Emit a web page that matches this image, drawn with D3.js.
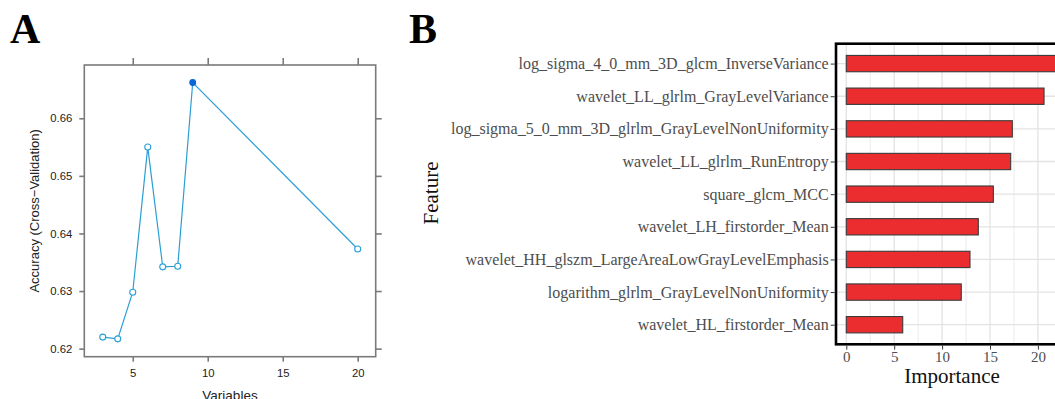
<!DOCTYPE html>
<html>
<head>
<meta charset="utf-8">
<script src="https://cdn.jsdelivr.net/npm/d3@7"></script>
<style>
  body { margin: 0; background: #fff; }
  svg { display: block; }
</style>
</head>
<body>
<svg id="chart" width="1055" height="399"></svg>
<script>
// panel A: RFE accuracy
const variables = [3, 4, 5, 6, 7, 8, 9, 20];
const accuracy = [0.6220, 0.6217, 0.6298, 0.6550, 0.6342, 0.6343, 0.6662, 0.6373];
const bestVariables = 9;
const accTicks = [0.62, 0.63, 0.64, 0.65, 0.66];
const varTicks = [5, 10, 15, 20];

// panel B: feature importance
const features = [
  "log_sigma_4_0_mm_3D_glcm_InverseVariance",
  "wavelet_LL_glrlm_GrayLevelVariance",
  "log_sigma_5_0_mm_3D_glrlm_GrayLevelNonUniformity",
  "wavelet_LL_glrlm_RunEntropy",
  "square_glcm_MCC",
  "wavelet_LH_firstorder_Mean",
  "wavelet_HH_glszm_LargeAreaLowGrayLevelEmphasis",
  "logarithm_glrlm_GrayLevelNonUniformity",
  "wavelet_HL_firstorder_Mean"
];
const importance = [22.9, 20.64, 17.33, 17.16, 15.35, 13.78, 12.91, 12.0, 5.89];
const impTicks = [0, 5, 10, 15, 20];
const impGrid = [0, 5, 10, 15, 20, 25];
const impMinor = [2.5, 7.5, 12.5, 17.5, 22.5];

const svg = d3.select("#chart");
const sans = "'Liberation Sans', Arial, sans-serif";
const serif = "'Liberation Serif', 'Times New Roman', serif";

// ---------- A ----------
svg.append("text")
  .attr("x", 10).attr("y", 43)
  .style("font-family", serif).style("font-weight", "bold").style("font-size", "42px")
  .text("A");

const xA = d3.scaleLinear().domain([1.77, 21.2]).range([84.3, 375.7]);
const yA = d3.scaleLinear().domain([0.6186, 0.66925]).range([356.7, 65]);
const boxCol = "#7a7a7a";

const gA = svg.append("g");

gA.append("rect")
  .attr("x", xA.range()[0]).attr("y", yA.range()[1])
  .attr("width", xA.range()[1] - xA.range()[0])
  .attr("height", yA.range()[0] - yA.range()[1])
  .attr("fill", "none").attr("stroke", boxCol).attr("stroke-width", 1.6);

function styleAxisA(g) {
  g.select(".domain").remove();
  g.selectAll(".tick line").attr("stroke", boxCol).attr("stroke-width", 1.6);
  g.selectAll(".tick text")
    .style("font-family", sans).style("font-size", "11.3px").attr("fill", "#222");
}

gA.append("g")
  .attr("transform", "translate(" + xA.range()[0] + ",0)")
  .call(d3.axisLeft(yA).tickValues(accTicks).tickSize(5).tickPadding(7).tickFormat(d3.format(".2f")))
  .call(styleAxisA);
gA.append("g")
  .attr("transform", "translate(" + xA.range()[1] + ",0)")
  .call(d3.axisRight(yA).tickValues(accTicks).tickSize(6).tickFormat(""))
  .call(styleAxisA);
gA.append("g")
  .attr("transform", "translate(0," + yA.range()[0] + ")")
  .call(d3.axisBottom(xA).tickValues(varTicks).tickSize(5).tickPadding(7))
  .call(styleAxisA);
gA.append("g")
  .attr("transform", "translate(0," + yA.range()[1] + ")")
  .call(d3.axisTop(xA).tickValues(varTicks).tickSize(7).tickFormat(""))
  .call(styleAxisA);

const ptsA = variables.map((v, i) => ({v: v, a: accuracy[i]}));

gA.append("path")
  .datum(ptsA)
  .attr("fill", "none")
  .attr("stroke", "#2a9fd6")
  .attr("stroke-width", 1.2)
  .attr("d", d3.line().x(d => xA(d.v)).y(d => yA(d.a)));

gA.selectAll("circle")
  .data(ptsA)
  .enter().append("circle")
  .attr("cx", d => xA(d.v))
  .attr("cy", d => yA(d.a))
  .attr("r", d => d.v === bestVariables ? 2.9 : 3)
  .attr("fill", d => d.v === bestVariables ? "#0a66d6" : "#fff")
  .attr("stroke", d => d.v === bestVariables ? "#0a66d6" : "#2a9fd6")
  .attr("stroke-width", 1.1);

svg.append("text")
  .attr("transform", "translate(39," + (yA.range()[0] + yA.range()[1]) / 2 + ") rotate(-90)")
  .attr("text-anchor", "middle")
  .style("font-family", sans).style("font-size", "13px").attr("fill", "#222")
  .text("Accuracy (Cross\u2212Validation)");

svg.append("text")
  .attr("x", (xA.range()[0] + xA.range()[1]) / 2).attr("y", 400)
  .attr("text-anchor", "middle")
  .style("font-family", sans).style("font-size", "13.5px").attr("fill", "#222")
  .text("Variables");

// ---------- B ----------
svg.append("text")
  .attr("x", 409).attr("y", 43)
  .style("font-family", serif).style("font-weight", "bold").style("font-size", "42px")
  .text("B");

const xB = d3.scaleLinear().domain([-1.075, 23.5]).range([836, 836 + 24.575 * 9.58]);
const yB = d3.scalePoint().domain(features).range([44, 344.3]).padding(0.6);
const barH = yB.step() * 0.5;

const gB = svg.append("g");

// grid
gB.selectAll(".minor")
  .data(impMinor)
  .enter().append("line")
  .attr("x1", d => xB(d)).attr("x2", d => xB(d))
  .attr("y1", 44).attr("y2", 344.3)
  .attr("stroke", "#ececec").attr("stroke-width", 1);
gB.selectAll(".vmajor")
  .data(impGrid)
  .enter().append("line")
  .attr("x1", d => xB(d)).attr("x2", d => xB(d))
  .attr("y1", 44).attr("y2", 344.3)
  .attr("stroke", "#e3e3e3").attr("stroke-width", 1.3);
gB.selectAll(".hmajor")
  .data(features)
  .enter().append("line")
  .attr("x1", 836).attr("x2", 1055)
  .attr("y1", d => yB(d)).attr("y2", d => yB(d))
  .attr("stroke", "#e3e3e3").attr("stroke-width", 1.3);

// bars
gB.selectAll(".bar")
  .data(features)
  .enter().append("rect")
  .attr("x", xB(0))
  .attr("y", d => yB(d) - barH / 2)
  .attr("width", (d, i) => xB(importance[i]) - xB(0))
  .attr("height", barH)
  .attr("fill", "#ec2d2f")
  .attr("stroke", "#3a3a3a")
  .attr("stroke-width", 1.1);

// border
gB.append("rect")
  .attr("x", 836).attr("y", 43.7)
  .attr("width", 300).attr("height", 344.3 - 43.7)
  .attr("fill", "none").attr("stroke", "#000").attr("stroke-width", 2.6);

function styleAxisB(g, size) {
  g.select(".domain").remove();
  g.selectAll(".tick line").attr("stroke", "#333").attr("stroke-width", 1);
  g.selectAll(".tick text")
    .style("font-family", serif).style("font-size", size).attr("fill", "#4d4d4d");
}

gB.append("g")
  .attr("transform", "translate(834.7,0)")
  .call(d3.axisLeft(yB).tickSize(4).tickPadding(2))
  .call(styleAxisB, "16px");
gB.append("g")
  .attr("transform", "translate(0,345.6)")
  .call(d3.axisBottom(xB).tickValues(impTicks).tickSize(4).tickPadding(2))
  .call(styleAxisB, "15px");

svg.append("text")
  .attr("transform", "translate(438,193) rotate(-90)")
  .attr("text-anchor", "middle")
  .style("font-family", serif).style("font-size", "21px").attr("fill", "#111")
  .text("Feature");

svg.append("text")
  .attr("x", 952).attr("y", 383)
  .attr("text-anchor", "middle")
  .style("font-family", serif).style("font-size", "21px").attr("fill", "#111")
  .text("Importance");
</script>
</body>
</html>
